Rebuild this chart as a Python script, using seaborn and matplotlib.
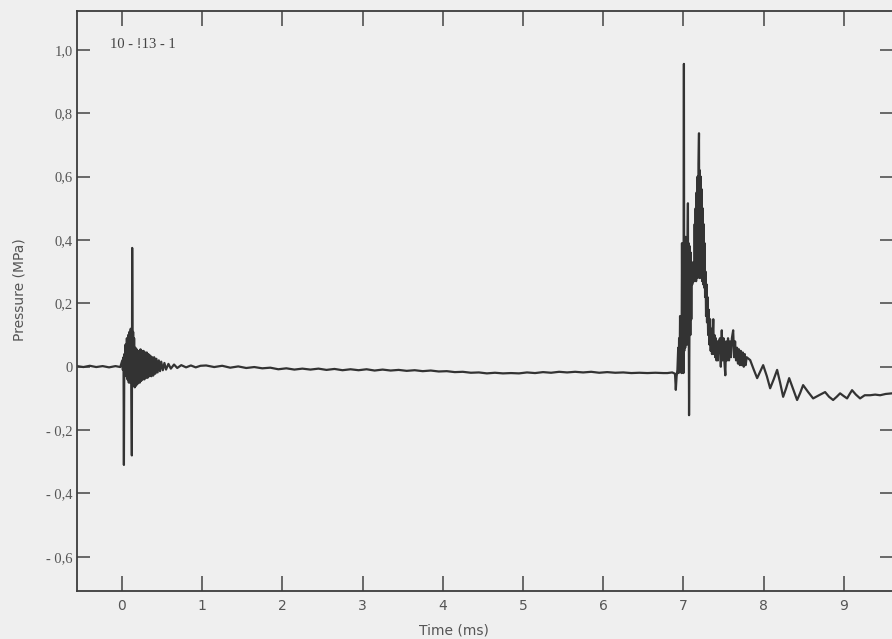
import numpy as np
import pandas as pd
import matplotlib
matplotlib.use("Agg")
import matplotlib.pyplot as plt
import seaborn as sns

# ---------------- data ----------------
# pre-trigger baseline
t_pre = [-0.56, -0.48, -0.40, -0.32, -0.24, -0.16, -0.08, -0.02]
p_pre = [0.002, -0.001, 0.003, -0.001, 0.002, -0.002, 0.002, -0.001]

# first burst (around t = 0)
t_burst1 = [0.005, 0.012, 0.020, 0.025, 0.030, 0.038, 0.046, 0.054, 0.062, 0.070,
            0.078, 0.086, 0.094, 0.102, 0.110, 0.118, 0.124, 0.128, 0.134, 0.140,
            0.146, 0.152, 0.160, 0.168, 0.176, 0.184, 0.192, 0.200, 0.208, 0.216,
            0.224, 0.232, 0.240, 0.250, 0.260, 0.270, 0.280, 0.290, 0.300, 0.310,
            0.320, 0.330, 0.342, 0.354, 0.366, 0.378, 0.390, 0.402, 0.416, 0.430,
            0.445, 0.46, 0.475, 0.49, 0.51, 0.53, 0.55, 0.58, 0.61, 0.65,
            0.69, 0.74, 0.80, 0.86, 0.92, 0.98]
p_burst1 = [0.02, -0.01, 0.03, -0.31, 0.04, -0.02, 0.07, -0.03, 0.09, -0.04,
            0.10, -0.05, 0.11, -0.05, 0.12, -0.04, -0.28, 0.375, -0.06, 0.11,
            -0.06, 0.09, -0.065, 0.06, -0.06, 0.055, -0.055, 0.05, -0.05, 0.05,
            -0.05, 0.055, -0.045, 0.05, -0.04, 0.05, -0.04, 0.045, -0.035, 0.045,
            -0.035, 0.04, -0.03, 0.035, -0.03, 0.03, -0.028, 0.03, -0.022, 0.025,
            -0.018, 0.02, -0.014, 0.016, -0.011, 0.012, -0.009, 0.009, -0.006, 0.007,
            -0.004, 0.005, -0.002, 0.004, -0.002, 0.003]

# quiet baseline between the events
t_quiet = [1.05, 1.15, 1.25, 1.35, 1.45, 1.55, 1.65, 1.75, 1.85, 1.95,
           2.05, 2.15, 2.25, 2.35, 2.45, 2.55, 2.65, 2.75, 2.85, 2.95,
           3.05, 3.15, 3.25, 3.35, 3.45, 3.55, 3.65, 3.75, 3.85, 3.95,
           4.05, 4.15, 4.25, 4.35, 4.45, 4.55, 4.65, 4.75, 4.85, 4.95,
           5.05, 5.15, 5.25, 5.35, 5.45, 5.55, 5.65, 5.75, 5.85, 5.95,
           6.05, 6.15, 6.25, 6.35, 6.45, 6.55, 6.65, 6.75]
p_quiet = [0.004, -0.001, 0.003, -0.003, 0.001, -0.004, -0.001, -0.005, -0.003, -0.008,
           -0.005, -0.009, -0.006, -0.009, -0.006, -0.01, -0.007, -0.011, -0.008, -0.011,
           -0.008, -0.012, -0.009, -0.012, -0.01, -0.013, -0.011, -0.014, -0.012, -0.015,
           -0.014, -0.017, -0.016, -0.019, -0.018, -0.021, -0.019, -0.021, -0.02, -0.021,
           -0.018, -0.02, -0.017, -0.019, -0.016, -0.018, -0.016, -0.018, -0.016, -0.019,
           -0.017, -0.019, -0.018, -0.02, -0.019, -0.02, -0.019, -0.02]

# main burst (around t = 7 ms)
t_burst2 = [6.80, 6.86, 6.895, 6.905, 6.915, 6.925, 6.935, 6.940, 6.946, 6.952,
            6.958, 6.964, 6.970, 6.976, 6.982, 6.988, 6.994, 7.000, 7.006, 7.010,
            7.016, 7.022, 7.028, 7.034, 7.040, 7.046, 7.052, 7.056, 7.060, 7.064,
            7.070, 7.074, 7.080, 7.086, 7.092, 7.098, 7.104, 7.110, 7.116, 7.122,
            7.128, 7.134, 7.140, 7.146, 7.152, 7.158, 7.164, 7.170, 7.176, 7.182,
            7.188, 7.194, 7.198, 7.204, 7.210, 7.216, 7.222, 7.228, 7.234, 7.240,
            7.246, 7.252, 7.258, 7.264, 7.270, 7.276, 7.282, 7.288, 7.294, 7.300,
            7.308, 7.316, 7.324, 7.332, 7.340, 7.348, 7.356, 7.364, 7.372, 7.380,
            7.388, 7.396, 7.404, 7.412, 7.420, 7.430, 7.440]
p_burst2 = [-0.020, -0.018, -0.022, -0.073, -0.030, -0.010, 0.06, -0.02, 0.09, -0.01,
            0.16, 0.00, 0.14, -0.02, 0.39, 0.02, 0.37, -0.02, 0.956, 0.05,
            0.38, 0.06, 0.41, 0.08, 0.40, 0.07, 0.41, 0.516, 0.08, 0.39,
            -0.153, 0.08, 0.38, 0.10, 0.36, 0.15, 0.33, 0.26, 0.32, 0.27,
            0.33, 0.27, 0.45, 0.28, 0.50, 0.27, 0.55, 0.28, 0.60, 0.29,
            0.64, 0.737, 0.28, 0.62, 0.29, 0.60, 0.28, 0.56, 0.27, 0.50,
            0.26, 0.45, 0.25, 0.39, 0.22, 0.30, 0.16, 0.26, 0.14, 0.22,
            0.10, 0.18, 0.07, 0.15, 0.05, 0.12, 0.04, 0.10, 0.15, 0.04,
            0.10, 0.03, 0.09, 0.02, 0.08, 0.02, 0.08]

# noisy tail just after the main burst
t_tail = [7.456, 7.466, 7.478, 7.488, 7.500, 7.512, 7.522, 7.532, 7.544, 7.556,
          7.568, 7.580, 7.592, 7.604, 7.620, 7.632, 7.644, 7.656, 7.668, 7.680,
          7.692, 7.704, 7.716, 7.728, 7.740, 7.752, 7.764, 7.776, 7.788]
p_tail = [0.09, 0.00, 0.115, 0.02, 0.09, 0.01, -0.027, 0.08, 0.02, 0.09,
          0.02, 0.08, 0.03, 0.09, 0.115, 0.03, 0.08, 0.02, 0.06, 0.01,
          0.055, 0.005, 0.05, 0.005, 0.045, 0.0, 0.04, 0.005, 0.03]

# slow decaying oscillation afterwards
t_decay = [7.832, 7.875, 7.919, 7.955, 7.994, 8.04, 8.081, 8.125, 8.168, 8.205,
           8.243, 8.28, 8.318, 8.37, 8.417, 8.455, 8.492, 8.555, 8.617, 8.69,
           8.766, 8.816, 8.866, 8.91, 8.953, 8.995, 9.040, 9.07, 9.102, 9.15,
           9.202, 9.26, 9.327, 9.39, 9.452, 9.52, 9.601]
p_decay = [0.021, -0.008, -0.036, -0.016, 0.005, -0.03, -0.068, -0.04, -0.01, -0.05,
           -0.095, -0.068, -0.036, -0.072, -0.105, -0.083, -0.058, -0.08, -0.10, -0.09,
           -0.08, -0.095, -0.105, -0.095, -0.084, -0.092, -0.10, -0.087, -0.074, -0.088,
           -0.10, -0.09, -0.09, -0.088, -0.09, -0.086, -0.084]

x_ticks = [0, 1, 2, 3, 4, 5, 6, 7, 8, 9]
x_tick_labels = ["0", "1", "2", "3", "4", "5", "6", "7", "8", "9"]
y_ticks = [-0.6, -0.4, -0.2, 0.0, 0.2, 0.4, 0.6, 0.8, 1.0]
y_tick_labels = ["- 0,6", "- 0,4", "- 0,2", "0", "0,2", "0,4", "0,6", "0,8", "1,0"]
run_label = "10 - !13 - 1"

# ---------------- plotting ----------------
df = pd.DataFrame({
    "time": t_pre + t_burst1 + t_quiet + t_burst2 + t_tail + t_decay,
    "pressure": p_pre + p_burst1 + p_quiet + p_burst2 + p_tail + p_decay,
})

sns.set_theme(style="white")
bg = "#efefef"
ink = "#333333"
txt = "#555555"

fig = plt.figure(figsize=(8.92, 6.39), dpi=100, facecolor=bg)
ax = fig.add_axes([0.0863, 0.0751, 0.9137, 0.9077])
ax.set_facecolor(bg)

sns.lineplot(data=df, x="time", y="pressure", sort=False, estimator=None,
             color=ink, linewidth=1.6, ax=ax)
for line in ax.get_lines():
    line.set_solid_joinstyle("round")

ax.set_xlim(-0.56, 9.60)
ax.set_ylim(-0.708, 1.123)

ax.set_xticks(x_ticks)
ax.set_xticklabels(x_tick_labels, family=["DejaVu Sans"], fontsize=10, color=txt)
ax.set_yticks(y_ticks)
ax.set_yticklabels(y_tick_labels, family=["Liberation Serif", "DejaVu Serif"],
                   fontsize=10.5, color=txt)

ax.tick_params(axis="x", direction="in", length=11, width=1.1, color="#444444",
               top=True, bottom=True, pad=6)
ax.tick_params(axis="y", direction="in", length=9, width=1.1, color="#444444",
               left=True, right=True, pad=3)

for side in ["left", "bottom", "top"]:
    ax.spines[side].set_visible(True)
    ax.spines[side].set_color("#3c3c3c")
    ax.spines[side].set_linewidth(1.3)
ax.spines["right"].set_visible(False)

ax.set_xlabel("Time (ms)", family=["DejaVu Sans"], fontsize=10, color=txt)
ax.xaxis.set_label_coords(0.463, -0.056)
ax.set_ylabel("Pressure (MPa)", family=["DejaVu Sans"], fontsize=10, color=txt)
ax.yaxis.set_label_coords(-0.062, 0.52)

ax.text(-0.15, 1.016, run_label, family=["Liberation Serif", "DejaVu Serif"],
        fontsize=10.5, color="#444444", va="center", ha="left")

fig.savefig("out.png", dpi=100, facecolor=bg)
